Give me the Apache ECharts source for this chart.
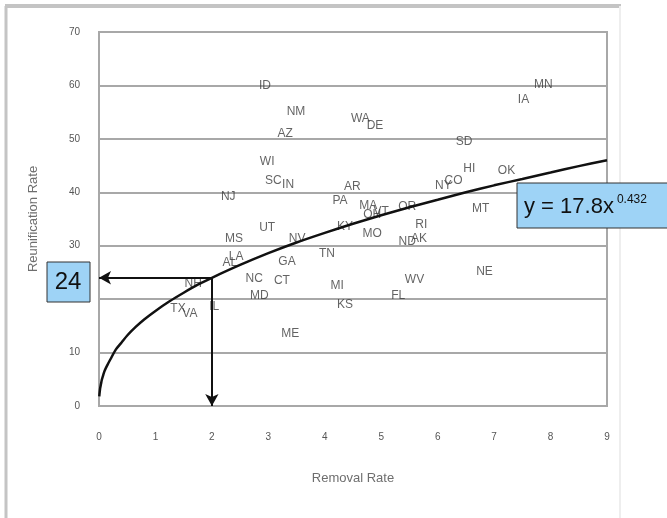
<!DOCTYPE html>
<html>
<head>
<meta charset="utf-8">
<script src="https://cdn.jsdelivr.net/npm/echarts@6/dist/echarts.min.js"></script>
<style>
    html, body { margin: 0; padding: 0; background: #fff; }
    #echart { width: 667px; height: 518px; }
</style>
</head>
<body>
<div id="echart"></div>
<script>
// state labels and their (removal rate, reunification rate)
var states = ['ID', 'MN', 'IA', 'NM', 'WA', 'DE', 'AZ', 'SD', 'WI', 'HI', 'OK', 'SC', 'IN', 'AR', 'CO', 'NY',
    'NJ', 'PA', 'MA', 'OH', 'VT', 'OR', 'MT', 'KY', 'MO', 'RI', 'UT', 'MS', 'NV', 'ND', 'AK', 'TN', 'LA', 'AL',
    'GA', 'NE', 'NC', 'CT', 'WV', 'NH', 'MI', 'MD', 'FL', 'KS', 'IL', 'TX', 'VA', 'ME'];
var removalRate = [2.94, 7.87, 7.52, 3.49, 4.63, 4.89, 3.30, 6.47, 2.98, 6.56, 7.22, 3.09, 3.35, 4.49, 6.28, 6.10,
    2.29, 4.27, 4.77, 4.84, 5.00, 5.46, 6.76, 4.36, 4.84, 5.71, 2.98, 2.39, 3.51, 5.46, 5.67, 4.04, 2.43, 2.32,
    3.33, 6.83, 2.75, 3.24, 5.59, 1.67, 4.22, 2.84, 5.30, 4.36, 2.04, 1.40, 1.61, 3.39];
var reunificationRate = [60.0, 60.2, 57.4, 55.1, 53.8, 52.5, 51.0, 49.5, 45.8, 44.5, 44.1, 42.1, 41.5, 41.1, 42.2, 41.3,
    39.1, 38.5, 37.4, 35.9, 36.4, 37.3, 37.0, 33.5, 32.3, 34.0, 33.3, 31.4, 31.4, 30.7, 31.4, 28.6, 27.9, 26.9,
    27.1, 25.2, 23.9, 23.4, 23.7, 22.8, 22.6, 20.6, 20.6, 18.9, 18.5, 18.3, 17.2, 13.5];

// fitted curve
var trendX = [0.005, 0.01, 0.02, 0.035, 0.05, 0.075, 0.1, 0.15, 0.2, 0.3, 0.4, 0.5, 0.65, 0.8, 1, 1.25, 1.5, 1.75,
    2, 2.5, 3, 3.5, 4, 4.5, 5, 5.5, 6, 6.5, 7, 7.5, 8, 8.5, 9];
var trendY = [1.8, 2.4, 3.3, 4.1, 4.9, 5.8, 6.6, 7.7, 8.7, 10.6, 11.9, 13.2, 14.8, 16.2, 17.8, 19.6, 21.2, 22.7,
    24.0, 26.4, 28.6, 30.6, 32.4, 34.1, 35.7, 37.2, 38.6, 40.0, 41.3, 42.5, 43.7, 44.9, 46.0];

var readX = 2;
var readY = 24;
var equation = ['y = 17.8x', '0.432'];

var pointData = [];
for (var i = 0; i < states.length; i++) {
    pointData.push({ value: [removalRate[i], reunificationRate[i]], name: states[i] });
}
var trendData = [];
for (var j = 0; j < trendX.length; j++) {
    trendData.push([trendX[j], trendY[j]]);
}

var option = {
    backgroundColor: '#fff',
    animation: false,
    grid: {
        left: 99,
        right: 60,
        top: 32,
        bottom: 112,
        show: true,
        borderColor: '#a8a8a8',
        borderWidth: 2
    },
    xAxis: {
        type: 'value',
        min: 0,
        max: 9,
        interval: 1,
        name: 'Removal Rate',
        nameLocation: 'middle',
        nameGap: 66,
        nameTextStyle: { color: '#6e6e6e', fontSize: 13, fontFamily: 'Liberation Sans' },
        axisLine: { show: false },
        axisTick: { show: false },
        splitLine: { show: false },
        axisLabel: { color: '#555', fontSize: 10, margin: 26, fontFamily: 'Liberation Sans' }
    },
    yAxis: {
        type: 'value',
        min: 0,
        max: 70,
        interval: 10,
        name: 'Reunification Rate',
        nameLocation: 'middle',
        nameGap: 59,
        nameTextStyle: { color: '#6e6e6e', fontSize: 13, fontFamily: 'Liberation Sans' },
        axisLine: { show: false },
        axisTick: { show: false },
        splitLine: { lineStyle: { color: '#a8a8a8', width: 2 } },
        axisLabel: { color: '#555', fontSize: 10, margin: 19, fontFamily: 'Liberation Sans' }
    },
    series: [
        {
            type: 'scatter',
            data: pointData,
            symbolSize: 1,
            itemStyle: { color: 'transparent' },
            label: {
                show: true,
                position: 'inside',
                formatter: '{b}',
                color: '#3c3c3c',
                fontSize: 12,
                fontFamily: 'Liberation Sans'
            },
            silent: true
        },
        {
            type: 'line',
            data: trendData,
            smooth: 0.3,
            showSymbol: false,
            lineStyle: { color: '#111', width: 2.5 },
            silent: true,
            markLine: {
                silent: true,
                symbol: ['none', 'arrow'],
                symbolSize: [10, 12],
                label: { show: false },
                lineStyle: { color: '#111', width: 2, type: 'solid' },
                data: [
                    [{ coord: [readX, readY] }, { coord: [0, readY] }],
                    [{ coord: [readX, readY] }, { coord: [readX, 0] }]
                ]
            }
        }
    ]
};

var myChart = echarts.init(document.getElementById('echart'));
myChart.setOption(option);

// frame and the two call-out boxes
var p24 = myChart.convertToPixel({ gridIndex: 0 }, [0, readY]);
myChart.setOption({
    graphic: [
        { type: 'line', shape: { x1: 5, y1: 6, x2: 621, y2: 6 }, style: { stroke: '#c4c4c4', lineWidth: 4 } },
        { type: 'line', shape: { x1: 6, y1: 6, x2: 6, y2: 518 }, style: { stroke: '#c4c4c4', lineWidth: 3 } },
        { type: 'line', shape: { x1: 620, y1: 6, x2: 620, y2: 518 }, style: { stroke: '#eeeeee', lineWidth: 2 } },
        {
            type: 'rect',
            shape: { x: 47, y: Math.round(p24[1]) - 16, width: 43, height: 40 },
            style: { fill: '#9ed3f6', stroke: '#333', lineWidth: 1 },
            z: 10
        },
        {
            type: 'text',
            x: 68,
            y: Math.round(p24[1]) + 4,
            style: {
                text: String(readY),
                fill: '#111',
                font: '24px "Liberation Sans"',
                align: 'center',
                verticalAlign: 'middle'
            },
            z: 11
        },
        {
            type: 'rect',
            shape: { x: 517, y: 183, width: 160, height: 45 },
            style: { fill: '#9ed3f6', stroke: '#333', lineWidth: 1 },
            z: 10
        },
        {
            type: 'text',
            x: 524,
            y: 207,
            style: {
                text: '{b|' + equation[0] + '}{s|' + equation[1] + '}',
                verticalAlign: 'middle',
                rich: {
                    b: { fontSize: 22, fontFamily: 'Liberation Sans', fill: '#111', color: '#111' },
                    s: { fontSize: 12, fontFamily: 'Liberation Sans', fill: '#111', color: '#111', padding: [0, 0, 14, 3] }
                }
            },
            z: 11
        }
    ]
});
</script>
</body>
</html>
